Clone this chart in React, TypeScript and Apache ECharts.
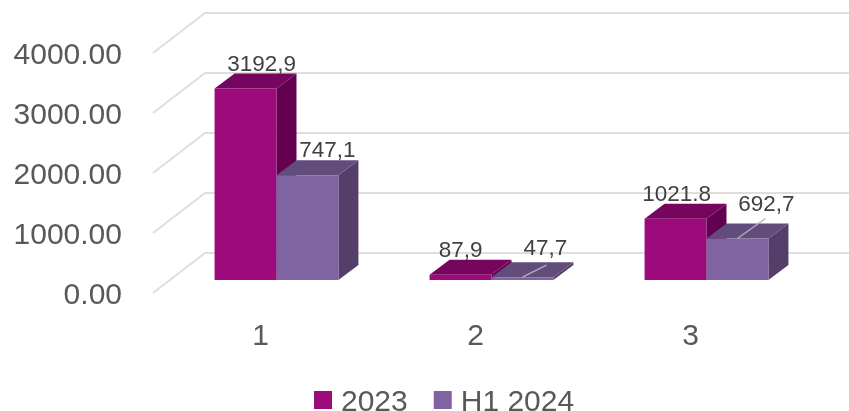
import React, { useEffect, useRef } from "react";
import * as echarts from "echarts";

const categories = ["1", "2", "3"];
const seriesNames = ["2023", "H1 2024"];
const values2023 = [3192.9, 87.9, 1021.8];
const valuesH1 = [1747.1, 47.7, 692.7];
const labels2023 = ["3192,9", "87,9", "1021.8"];
const labelsH1 = ["747,1", "47,7", "692,7"];
const tickValues = [0, 1000, 2000, 3000, 4000];

const FONT = '"Liberation Sans", Arial, sans-serif';
const DX = 20, DY = -15, PLANE_X = 16, PLANE_Y = -13, WALL_X = 52, WALL_Y = -40;

const palettes = [
  { front: "#9c0a7c", top: "#76055f", side: "#630150" },
  { front: "#8064a2", top: "#624c7c", side: "#543f6a" },
];
// label centre: dx from bar centre, distance above the front top edge; then leader dx, dy
const labelOffsets = [
  [[16, 25, 0, 0], [0, 25, 0, 0], [1, 25, 0, 0]],
  [[20, 26, 0, 0], [23, 30, 24, 12], [29, 35, 28, 20]],
];

function barRenderer(s: number, labels: string[]) {
  return (params: any, api: any) => {
    const i = api.value(0);
    const v = api.value(1);
    const band = api.size([1, 0])[0];
    const w = band * 0.288;
    const c0 = api.coord([i, 0]);
    const c1 = api.coord([i, v]);
    const x0 = c0[0] + PLANE_X - w + s * w;
    const x1 = x0 + w;
    const yb = c0[1] + PLANE_Y;
    const yt = c1[1] + PLANE_Y;
    const p = palettes[s];
    const off = labelOffsets[s][i];
    const xc = x0 + w / 2;
    const children: any[] = [
      { type: "polygon", shape: { points: [[x1, yb], [x1 + DX, yb + DY], [x1 + DX, yt + DY], [x1, yt]] }, style: { fill: p.side } },
      { type: "polygon", shape: { points: [[x0, yt], [x1, yt], [x1 + DX, yt + DY], [x0 + DX, yt + DY]] }, style: { fill: p.top } },
      { type: "rect", shape: { x: x0, y: yt, width: w, height: yb - yt }, style: { fill: p.front } },
      { type: "text", z2: 10, style: { text: labels[i], x: xc + off[0], y: yt - off[1], align: "center", verticalAlign: "middle", fill: "#404040", font: `22.5px ${FONT}` } },
    ];
    if (off[2]) {
      children.push({
        type: "line",
        z2: 10,
        shape: { x1: xc, y1: yt, x2: xc + off[2], y2: yt - off[3] },
        style: { stroke: "#b3b3b3", lineWidth: 1.3 },
      });
    }
    return { type: "group", children };
  };
}

function wallRenderer(params: any, api: any) {
  const v = api.value(0);
  const left = api.coord([0, v]);
  const band = api.size([1, 0])[0];
  const fx = left[0] - band / 2;
  const bx = fx + WALL_X;
  const by = left[1] + WALL_Y;
  return {
    type: "group",
    children: [
      { type: "line", shape: { x1: fx, y1: left[1], x2: bx, y2: by }, style: { stroke: "#dedede", lineWidth: 2 } },
      { type: "line", shape: { x1: bx, y1: by, x2: 849, y2: by }, style: { stroke: "#dedede", lineWidth: 2 } },
    ],
  };
}

export default function App() {
  const ref = useRef<HTMLDivElement>(null);
  useEffect(() => {
    const chart = echarts.init(ref.current!, undefined, { renderer: "svg" });
    chart.setOption({
      animation: false,
      textStyle: { fontFamily: FONT },
      grid: { left: 153, top: 53, width: 645, height: 240 },
      legend: {
        data: seriesNames,
        left: 314,
        top: 385,
        padding: 0,
        icon: "rect",
        itemWidth: 18,
        itemHeight: 18,
        itemGap: 26,
        textStyle: { fontFamily: FONT, fontSize: 30, color: "#595959", padding: [0, 0, 0, 4] },
      },
      xAxis: {
        type: "category",
        data: categories,
        axisLine: { show: false },
        axisTick: { show: false },
        axisLabel: { fontFamily: FONT, fontSize: 30, color: "#595959", margin: 26 },
      },
      yAxis: {
        type: "value",
        min: 0,
        max: 4000,
        interval: 1000,
        splitLine: { show: false },
        axisLine: { show: false },
        axisTick: { show: false },
        axisLabel: { fontFamily: FONT, fontSize: 30, color: "#595959", margin: 31, formatter: (v: number) => v.toFixed(2) },
      },
      series: [
        {
          name: "walls",
          type: "custom",
          renderItem: wallRenderer,
          data: tickValues.map((t) => [t]),
          encode: { y: 0 },
          silent: true,
          clip: false,
          z: 1,
        },
        {
          name: seriesNames[0],
          type: "custom",
          renderItem: barRenderer(0, labels2023),
          itemStyle: { color: palettes[0].front },
          data: values2023.map((v, i) => [i, v]),
          encode: { x: 0, y: 1 },
          clip: false,
          z: 2,
        },
        {
          name: seriesNames[1],
          type: "custom",
          renderItem: barRenderer(1, labelsH1),
          itemStyle: { color: palettes[1].front },
          data: valuesH1.map((v, i) => [i, v]),
          encode: { x: 0, y: 1 },
          clip: false,
          z: 3,
        },
      ],
    });
    return () => chart.dispose();
  }, []);
  return <div ref={ref} style={{ position: "fixed", left: 0, top: 0, width: 849, height: 411 }} />;
}
